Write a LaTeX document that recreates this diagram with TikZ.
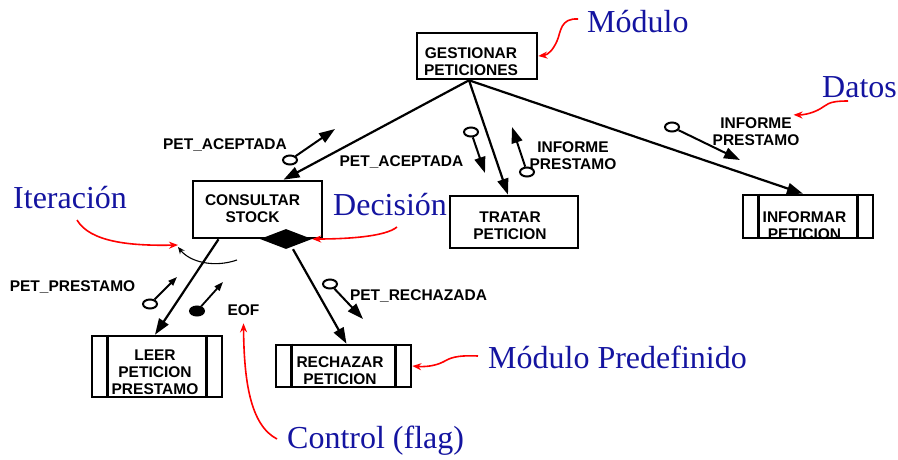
\documentclass[tikz,border=0pt]{standalone}
\usepackage{fontspec}
\setmainfont{Liberation Serif}
\newfontfamily\labfont{Liberation Sans}
\usetikzlibrary{arrows.meta,shapes.geometric}
\definecolor{noteblue}{RGB}{20,20,160}
\tikzset{
  module/.style    = {draw, line width=2.6pt, inner sep=0pt},
  modtext/.style   = {font=\labfont\bfseries\fontsize{15.5}{17}\selectfont,
                      align=center, inner sep=0pt},
  datalabel/.style = {modtext},
  decision/.style  = {diamond, fill=black, inner sep=0pt,
                      minimum width=52pt, minimum height=20pt},
  couple/.style    = {ellipse, draw, line width=2pt, fill=white, inner sep=0pt,
                      minimum width=14pt, minimum height=9pt},
  flagcouple/.style= {couple, fill=black},
  call/.style      = {line width=2.2pt, -{Triangle[length=16pt,width=11pt]}},
  flow/.style      = {line width=2pt, -{Triangle[length=16pt,width=11pt]}},
  smallflow/.style = {line width=1.8pt, -{Triangle[length=9pt,width=6.5pt]}},
  loopmark/.style  = {line width=1.1pt, -{Stealth[length=7pt,width=6pt]}},
  note/.style      = {font=\fontsize{32}{36}\selectfont, text=noteblue,
                      inner sep=0pt, anchor=base west},
  pointer/.style   = {red, line width=1.6pt, -{Stealth[length=9pt,width=7pt]}}
}

\begin{document}
\begin{tikzpicture}[x=1pt, y=-1pt]
  \path[use as bounding box] (0,0) rectangle (898,459);

  % modules
  \node[module, minimum width=120pt, minimum height=46pt,
        label={[modtext, xshift=-6pt, yshift=-5.6pt]center:GESTIONAR\\PETICIONES}]
        (gest) at (477,56) {};
  \node[module, minimum width=129pt, minimum height=57pt,
        label={[modtext, xshift=-5pt, yshift=1pt]center:CONSULTAR\\STOCK}]
        (cons) at (257.5,209.5) {};
  \node[module, minimum width=128pt, minimum height=52pt,
        label={[modtext, xshift=-4pt, yshift=-3.4pt]center:TRATAR\\PETICION}]
        (trat) at (514,222) {};
  \node[module, minimum width=130pt, minimum height=43pt,
        label={[modtext, xshift=-3.5pt, yshift=-9pt]center:INFORMAR\\PETICION}]
        (inf) at (808,216.5) {};
  \node[module, minimum width=130pt, minimum height=61pt,
        label={[modtext, xshift=-2pt, yshift=-5.4pt]center:LEER\\PETICION\\PRESTAMO}]
        (leer) at (157,366.5) {};
  \node[module, minimum width=135pt, minimum height=42pt,
        label={[modtext, xshift=-3.5pt, yshift=-4.4pt]center:RECHAZAR\\PETICION}]
        (rech) at (343.5,366) {};
  \foreach \m in {inf,leer,rech}
    \draw[module] ([xshift=17pt]\m.north west) -- ([xshift=17pt]\m.south west)
                  ([xshift=-17pt]\m.north east) -- ([xshift=-17pt]\m.south east);
  \node[decision] (dec) at (286,239) {};

  % calls
  \draw[call] ([xshift=-8pt]gest.south) -- ([xshift=26pt]cons.north);
  \draw[call] ([xshift=-8pt]gest.south) -- ([xshift=-6pt]trat.north);
  \draw[call] ([xshift=-8pt]gest.south) -- ([xshift=-5pt]inf.north);
  \draw[call] ([xshift=-39pt]cons.south) -- ([xshift=-2pt]leer.north);
  \draw[call] ([xshift=7pt]dec.south) -- ([xshift=3pt]rech.north);

  % iteration
  \coordinate (iter) at (178,247);
  \coordinate (itertail) at (237,260);
  \draw[loopmark] (itertail) .. controls (214,268) and (190,262) .. (iter);

  % couples
  \node[couple] (acep1) at (290,160) {};
  \coordinate (acep1end) at (335,129);
  \draw[flow] (acep1) -- (acep1end);
  \node[datalabel, anchor=base] (acep1lab) at (225,149) {PET\_ACEPTADA};

  \node[couple] (acep2) at (471,132) {};
  \coordinate (acep2end) at (485,173);
  \draw[flow] (acep2) -- (acep2end);
  \node[datalabel, anchor=base] (acep2lab) at (401.5,166) {PET\_ACEPTADA};

  \node[couple] (infp1) at (527,172) {};
  \coordinate (infp1end) at (512,127);
  \draw[flow] (infp1) -- (infp1end);
  \node[datalabel] (infp1lab) at (573,156) {INFORME\\PRESTAMO};

  \node[couple] (infp2) at (672,127) {};
  \coordinate (infp2end) at (740,160);
  \draw[flow] (infp2) -- (infp2end);
  \node[datalabel] (infp2lab) at (756,132) {INFORME\\PRESTAMO};

  \node[couple] (pres) at (150,304) {};
  \coordinate (presend) at (177,277);
  \draw[smallflow] (pres) -- (presend);
  \node[datalabel, anchor=base] (preslab) at (72.5,291) {PET\_PRESTAMO};

  \node[flagcouple] (eof) at (197,311) {};
  \coordinate (eofend) at (223,282);
  \draw[smallflow] (eof) -- (eofend);
  \node[datalabel, anchor=base] (eoflab) at (243.5,315) {EOF};

  \node[couple] (rechz) at (330,284) {};
  \coordinate (rechzend) at (363,319);
  \draw[flow] (rechz) -- (rechzend);
  \node[datalabel, anchor=base] (rechzlab) at (418.5,300) {PET\_RECHAZADA};

  % notes
  \node[note] (modnote)  at (587,32)  {Módulo};
  \node[note] (datnote)  at (822,97)  {Datos};
  \node[note] (iternote) at (13,208)  {Iteración};
  \node[note] (decnote)  at (333,215) {Decisión};
  \node[note] (prednote) at (488,368) {Módulo Predefinido};
  \node[note] (ctlnote)  at (287,448) {Control (flag)};

  \coordinate (modtail)  at (578,19);
  \coordinate (dattail)  at (848,101);
  \coordinate (itertl)   at (77,220);
  \coordinate (dectail)  at (397,227);
  \coordinate (predtail) at (478,356);
  \coordinate (ctltail)  at (277,439);

  \draw[pointer] (modtail) .. controls (560,18) and (561,32) .. (557,41)
                 .. controls (553,50) and (548,55) .. (gest.east);
  \draw[pointer] (dattail) .. controls (826,101) and (828,105) .. (818,110)
                 .. controls (810,114) and (802,115) .. ([shift={(-6pt,3pt)}]infp2lab.north east);
  \draw[pointer] (itertl) .. controls (90,242) and (130,246) .. ([yshift=2pt]iter);
  \draw[pointer] (dectail) .. controls (385,237) and (345,239) .. (dec.east);
  \draw[pointer] (predtail) .. controls (456,355) and (450,358) .. (443,362)
                 .. controls (435,366) and (425,367) .. (rech.east);
  \draw[pointer] (ctltail) .. controls (250,425) and (244,380) .. ([yshift=-8pt]eoflab.south);
\end{tikzpicture}
\end{document}
